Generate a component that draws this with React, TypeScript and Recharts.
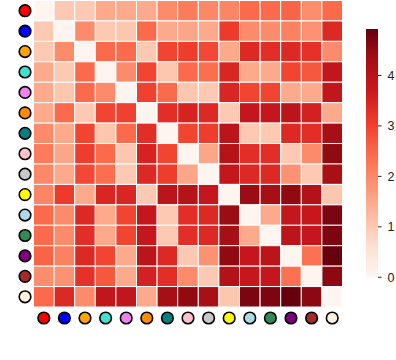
import React from 'react';
import { ScatterChart, Scatter, XAxis, YAxis, BarChart, Bar } from 'recharts';

// marker colours used as row / column labels
const labelColors = [
  '#ff0000', '#0000ff', '#ffa500', '#40e0d0', '#ee82ee',
  '#ff8c00', '#008080', '#ffc0cb', '#c8c8c8', '#ffff00',
  '#add8e6', '#2e8b57', '#800080', '#a52a2a', '#fdf1e0',
];

const values = [
  [0, 1.0, 1.0, 1.5, 1.5, 1.5, 1.95, 2.2, 2.0, 2.05, 2.45, 2.45, 2.55, 1.9, 2.45],
  [1.0, 0, 1.95, 1.0, 1.05, 2.45, 1.5, 1.55, 1.5, 3.1, 1.95, 1.95, 2.1, 1.85, 3.4],
  [1.0, 1.95, 0, 2.45, 2.45, 1.0, 2.95, 3.05, 2.9, 1.5, 3.4, 3.3, 3.4, 3.25, 1.95],
  [1.5, 1.0, 2.45, 0, 1.95, 2.95, 1.05, 2.45, 2.4, 3.45, 1.5, 1.5, 2.95, 2.7, 3.85],
  [1.5, 1.05, 2.45, 1.95, 0, 3.0, 2.45, 1.05, 1.0, 3.45, 2.95, 2.95, 1.5, 1.5, 3.85],
  [1.5, 2.45, 1.0, 2.95, 3.0, 0, 3.3, 3.5, 3.4, 1.0, 3.8, 3.8, 3.95, 3.55, 1.5],
  [1.95, 1.5, 2.95, 1.05, 2.45, 3.3, 0, 2.95, 3.05, 3.95, 1.0, 1.0, 3.4, 3.3, 4.3],
  [2.2, 1.55, 3.05, 2.45, 1.05, 3.5, 2.95, 0, 1.55, 4.05, 3.3, 3.3, 1.0, 1.95, 4.5],
  [2.0, 1.5, 2.9, 2.4, 1.0, 3.4, 3.05, 1.55, 0, 3.8, 3.4, 3.4, 1.85, 1.0, 4.25],
  [2.05, 3.1, 1.5, 3.45, 3.45, 1.0, 3.95, 4.05, 3.8, 0, 4.4, 4.3, 4.5, 4.1, 1.05],
  [2.45, 1.95, 3.4, 1.5, 2.95, 3.8, 1.0, 3.3, 3.4, 4.4, 0, 1.5, 3.8, 3.75, 4.72],
  [2.45, 1.95, 3.3, 1.5, 2.95, 3.8, 1.0, 3.3, 3.4, 4.3, 1.5, 0, 3.95, 3.8, 4.7],
  [2.55, 2.1, 3.4, 2.95, 1.5, 3.95, 3.4, 1.0, 1.85, 4.5, 3.8, 3.95, 0, 2.35, 4.92],
  [1.9, 1.85, 3.25, 2.7, 1.5, 3.55, 3.3, 1.95, 1.0, 4.1, 3.75, 3.8, 2.35, 0, 4.55],
  [2.45, 3.4, 1.95, 3.85, 3.85, 1.5, 4.3, 4.5, 4.25, 1.05, 4.72, 4.7, 4.92, 4.55, 0],
];

const colorbarTicks = [0, 1, 2, 3, 4];

// matplotlib "Reds"
const reds = ['#fff5f0', '#fee0d2', '#fcbba1', '#fc9272', '#fb6a4a', '#ef3b2c', '#cb181d', '#a50f15', '#67000d'];

const VMAX = Math.max(...values.flat());
const N = labelColors.length;
const indices = labelColors.map((_, i) => i);

const W = 396;
const H = 360;
const margin = { top: 0.5, right: 53.5, bottom: 0, left: 0 };
const Y_AXIS_W = 33.5;
const X_AXIS_H = 53;
const CELL_W = (W - margin.left - margin.right - Y_AXIS_W) / N;
const CELL_H = (H - margin.top - margin.bottom - X_AXIS_H) / N;

function hexToRgb(h: string) {
  return [1, 3, 5].map((k) => parseInt(h.slice(k, k + 2), 16));
}

function redsColor(t: number) {
  const c = Math.min(1, Math.max(0, t)) * (reds.length - 1);
  const i = Math.min(reds.length - 2, Math.floor(c));
  const f = c - i;
  const a = hexToRgb(reds[i]);
  const b = hexToRgb(reds[i + 1]);
  const rgb = a.map((v, k) => Math.round(v + (b[k] - v) * f));
  return `rgb(${rgb[0]},${rgb[1]},${rgb[2]})`;
}

const cells = values.flatMap((row, i) => row.map((v, j) => ({ x: j, y: i, v })));

function CellShape(props: any) {
  const { cx, cy, payload } = props;
  return (
    <rect
      x={cx - CELL_W / 2}
      y={cy - CELL_H / 2}
      width={CELL_W}
      height={CELL_H}
      fill={redsColor(payload.v / VMAX)}
      stroke="#ffffff"
      strokeWidth={1}
    />
  );
}

function CircleTick(props: any) {
  const { x, y, payload } = props;
  return <circle cx={x} cy={y} r={5.8} fill={labelColors[payload.value]} stroke="#000" strokeWidth={1.6} />;
}

export default function App() {
  return (
    <div style={{ position: 'absolute', left: 0, top: 0, width: W, height: H, background: '#fff' }}>
      <ScatterChart width={W} height={H} margin={margin}>
        <XAxis
          type="number"
          dataKey="x"
          domain={[-0.5, N - 0.5]}
          ticks={indices}
          interval={0}
          height={X_AXIS_H}
          axisLine={false}
          tickLine={false}
          tickSize={0}
          tickMargin={11}
          tick={<CircleTick />}
        />
        <YAxis
          type="number"
          dataKey="y"
          domain={[-0.5, N - 0.5]}
          reversed
          ticks={indices}
          interval={0}
          width={Y_AXIS_W}
          axisLine={false}
          tickLine={false}
          tickSize={0}
          tickMargin={8.5}
          tick={<CircleTick />}
        />
        <Scatter data={cells} shape={<CellShape />} isAnimationActive={false} />
      </ScatterChart>

      <div style={{ position: 'absolute', left: 356, top: 0 }}>
        <BarChart
          width={40}
          height={H}
          data={[{ name: 'cb', v: VMAX }]}
          margin={{ top: 29, right: 0, bottom: 82.7, left: 10 }}
          barCategoryGap={0}
        >
          <defs>
            <linearGradient id="redsGrad" x1="0" y1="1" x2="0" y2="0">
              {reds.map((c, i) => (
                <stop key={i} offset={i / (reds.length - 1)} stopColor={c} />
              ))}
            </linearGradient>
          </defs>
          <XAxis dataKey="name" hide />
          <YAxis
            orientation="right"
            type="number"
            domain={[0, VMAX]}
            ticks={colorbarTicks}
            width={18}
            axisLine={false}
            tickSize={3.5}
            tickMargin={6}
            tickLine={{ stroke: '#222', strokeWidth: 1 }}
            tick={{ fill: '#222', fontSize: 12.5, fontFamily: 'Liberation Sans, Arial, sans-serif' }}
          />
          <Bar dataKey="v" fill="url(#redsGrad)" isAnimationActive={false} />
        </BarChart>
      </div>
    </div>
  );
}
